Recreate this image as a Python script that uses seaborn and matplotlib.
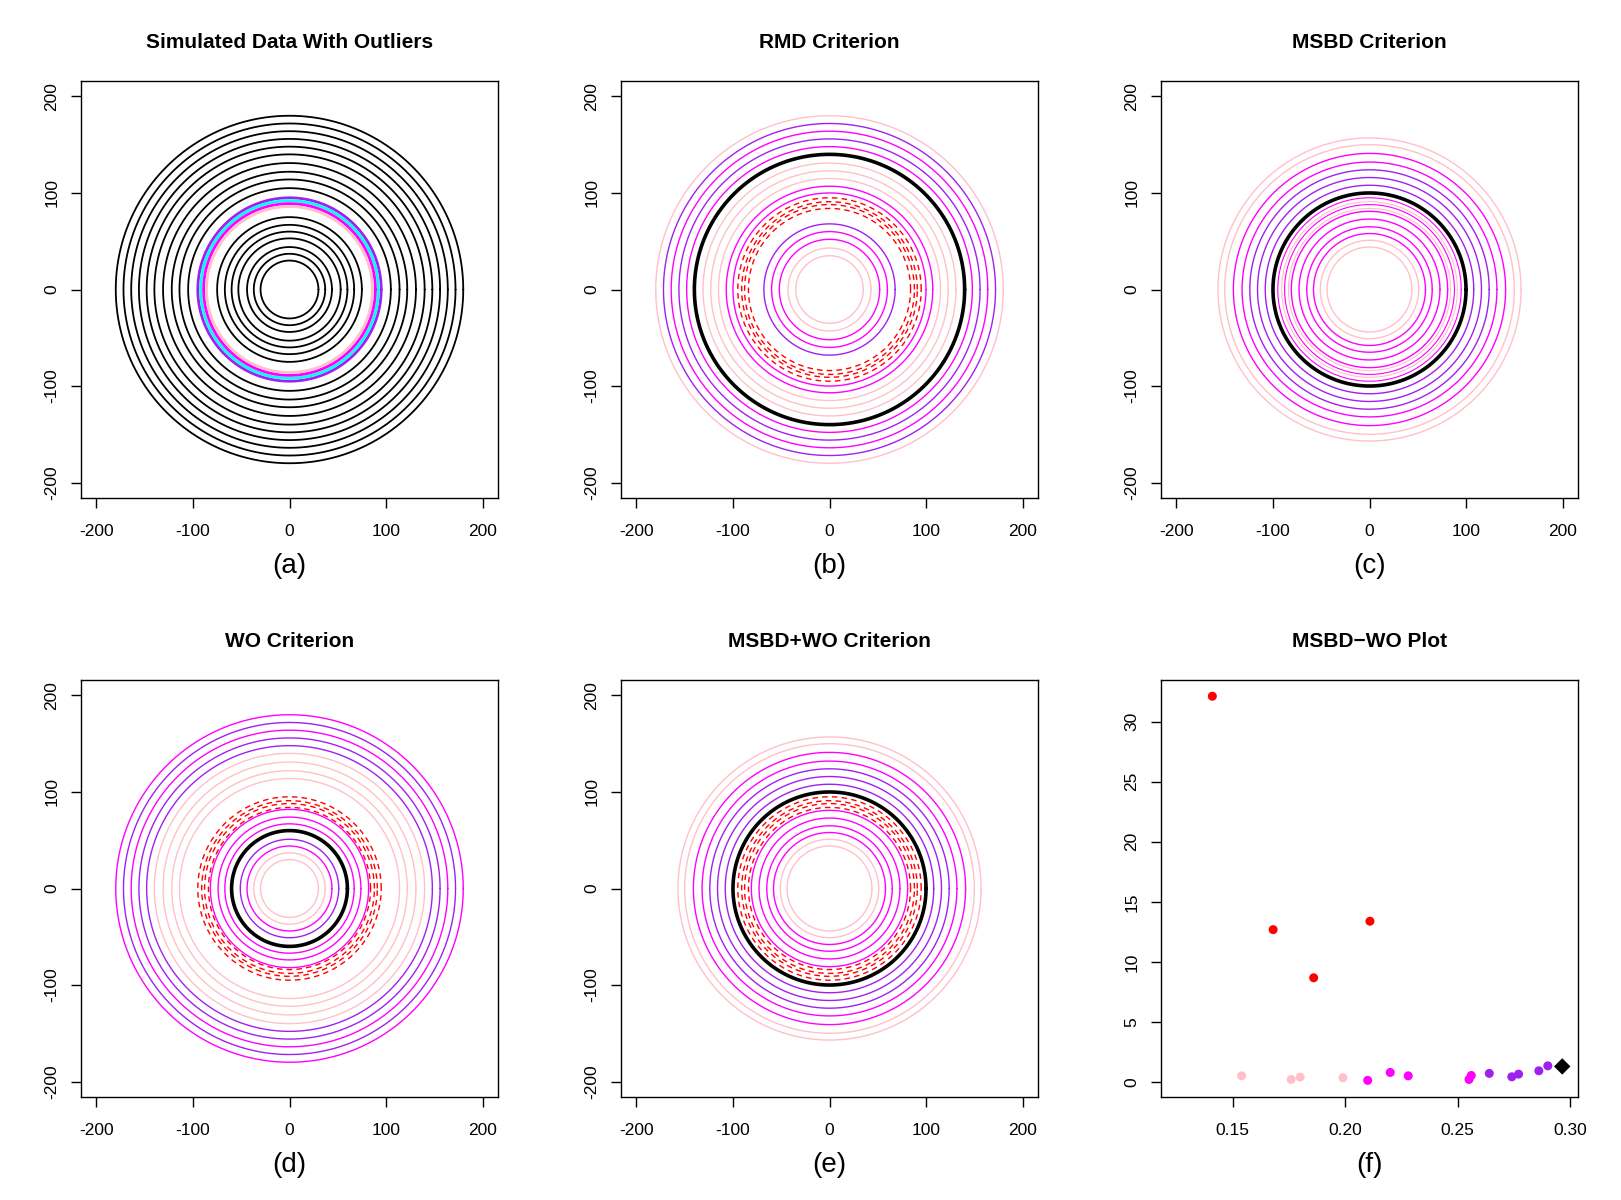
import numpy as np
import pandas as pd
import seaborn as sns
import matplotlib.pyplot as plt

PINK = '#FFC0CB'
MAGENTA = '#FF00FF'
PURPLE = '#A020F0'
RED = '#FF0000'
CYAN = '#00FFFF'
BLACK = '#000000'

# (a) simulated closed curves (radii)
sim_radii = [180, 172, 164, 156, 148, 140, 131, 122, 114, 105, 75, 67, 60, 53, 44, 37, 30]
sim_out_radii = [95, 92, 89, 86]
sim_out_colors = [PURPLE, CYAN, MAGENTA, PINK]

# outlying curves as drawn in the criterion panels
outlier_radii = [95, 91, 88, 84]

# (b) RMD criterion
rmd_radii = [180, 172, 164, 156, 148, 140, 131, 123, 115, 107, 100, 68, 60, 52, 43, 35]
rmd_colors = [PINK, PURPLE, MAGENTA, PURPLE, MAGENTA, BLACK, PINK, PINK, PINK, MAGENTA,
              MAGENTA, PURPLE, MAGENTA, MAGENTA, PINK, PINK]

# (c) MSBD criterion, (e) MSBD+WO criterion
msbd_radii = [157, 150, 141, 132, 124, 116, 108, 100, 81, 73, 65, 58, 51, 44]
msbd_colors = [PINK, PINK, MAGENTA, MAGENTA, PURPLE, PURPLE, PURPLE, BLACK,
               MAGENTA, MAGENTA, MAGENTA, MAGENTA, PINK, PINK]
msbd_out_colors = [MAGENTA, PINK, MAGENTA, PINK]

# (d) WO criterion
wo_radii = [180, 172, 164, 156, 148, 140, 131, 122, 114, 82, 74, 67, 60, 51, 44, 37, 30]
wo_colors = [MAGENTA, PURPLE, MAGENTA, PURPLE, PURPLE, PINK, PINK, PINK, PINK,
             MAGENTA, MAGENTA, MAGENTA, BLACK, PURPLE, MAGENTA, PINK, PINK]

# (f) MSBD-WO plot
plot_msbd = [0.141, 0.168, 0.186, 0.211, 0.154, 0.176, 0.180, 0.199, 0.210, 0.220,
             0.228, 0.255, 0.256, 0.264, 0.274, 0.277, 0.286, 0.290]
plot_wo = [32.1, 12.7, 8.7, 13.4, 0.55, 0.25, 0.44, 0.39, 0.17, 0.83,
           0.55, 0.25, 0.58, 0.75, 0.47, 0.69, 0.97, 1.38]
plot_group = ['outlier'] * 4 + ['low'] * 4 + ['mid'] * 5 + ['high'] * 5
median_msbd = [0.2964]
median_wo = [1.33]
group_colors = {'outlier': RED, 'low': PINK, 'mid': MAGENTA, 'high': PURPLE}

titles = ['Simulated Data With Outliers', 'RMD Criterion', 'MSBD Criterion',
          'WO Criterion', 'MSBD+WO Criterion', 'MSBD\u2212WO Plot']
letters = ['(a)', '(b)', '(c)', '(d)', '(e)', '(f)']

sns.set_theme(style='ticks', rc={'text.color': 'black', 'axes.labelcolor': 'black',
                                 'xtick.color': 'black', 'ytick.color': 'black',
                                 'axes.edgecolor': 'black'})
plt.rcParams['font.family'] = ['Liberation Sans', 'DejaVu Sans']
plt.rcParams['axes.unicode_minus'] = False

theta = np.linspace(0, 2 * np.pi, 181)


def rings(radii, colors):
    frames = []
    for i, (r, c) in enumerate(zip(radii, colors)):
        frames.append(pd.DataFrame({'curve': i, 'color': c,
                                    'x': r * np.cos(theta), 'y': r * np.sin(theta)}))
    return pd.concat(frames, ignore_index=True)


def draw(ax, df, lw=1.0, thick=2.6, dashed=False):
    for (_, c), g in df.groupby(['curve', 'color'], sort=True):
        sns.lineplot(data=g, x='x', y='y', sort=False, estimator=None, ax=ax,
                     color=c, lw=thick if c == BLACK else lw,
                     ls=(0, (4, 3)) if dashed else '-', legend=False,
                     zorder=3 if c == BLACK else 2)


def style(ax, title, letter):
    ax.set_title(title, fontsize=15, fontweight='bold', pad=24)
    ax.set_xlabel(letter, fontsize=20, labelpad=10)
    ax.set_ylabel('')
    for s in ax.spines.values():
        s.set_visible(True)
        s.set_linewidth(1.0)
        s.set_color('black')
    ax.tick_params(length=7.5, width=1.0, color='black', labelsize=12.5,
                   direction='out')
    ax.tick_params(axis='x', pad=11)
    ax.tick_params(axis='y', pad=8, labelrotation=90)
    for lbl in ax.get_yticklabels():
        lbl.set_va('center')


fig = plt.figure(figsize=(16.21, 12), dpi=100)
W, H = 1621, 1200
lefts = [81, 621, 1161]
tops = [81, 680]
axes = []
for t in tops:
    for l in lefts:
        axes.append(fig.add_axes([l / W, 1 - (t + 417) / H, 417 / W, 417 / H]))

ticks = [-200, -100, 0, 100, 200]

# (a)
ax = axes[0]
draw(ax, rings(sim_radii, [BLACK] * len(sim_radii)), thick=1.3)
draw(ax, rings(sim_out_radii, sim_out_colors), lw=2.0)

# (b)
ax = axes[1]
draw(ax, rings(rmd_radii, rmd_colors))
draw(ax, rings(outlier_radii, [RED] * 4), lw=1.0, dashed=True)

# (c)
ax = axes[2]
draw(ax, rings(msbd_radii, msbd_colors))
draw(ax, rings(outlier_radii, msbd_out_colors), lw=0.8)

# (d)
ax = axes[3]
draw(ax, rings(wo_radii, wo_colors))
draw(ax, rings(outlier_radii, [RED] * 4), lw=1.0, dashed=True)

# (e)
ax = axes[4]
draw(ax, rings(msbd_radii, msbd_colors))
draw(ax, rings(outlier_radii, [RED] * 4), lw=1.0, dashed=True)

for ax in axes[:5]:
    ax.set_xlim(-216, 216)
    ax.set_ylim(-216, 216)
    ax.set_xticks(ticks)
    ax.set_yticks(ticks)

# (f)
ax = axes[5]
pts = pd.DataFrame({'msbd': plot_msbd, 'wo': plot_wo, 'group': plot_group})
sns.scatterplot(data=pts, x='msbd', y='wo', hue='group', palette=group_colors,
                s=42, edgecolor='none', legend=False, ax=ax)
sns.scatterplot(x=median_msbd, y=median_wo, marker='D', color=BLACK, s=70,
                edgecolor='none', ax=ax)
ax.set_xlim(0.1182, 0.3034)
ax.set_ylim(-1.21, 33.45)
ax.set_xticks([0.15, 0.20, 0.25, 0.30])
ax.set_xticklabels(['0.15', '0.20', '0.25', '0.30'])
ax.set_yticks([0, 5, 10, 15, 20, 25, 30])

for ax, t, l in zip(axes, titles, letters):
    style(ax, t, l)

fig.savefig('out.png', dpi=100)
